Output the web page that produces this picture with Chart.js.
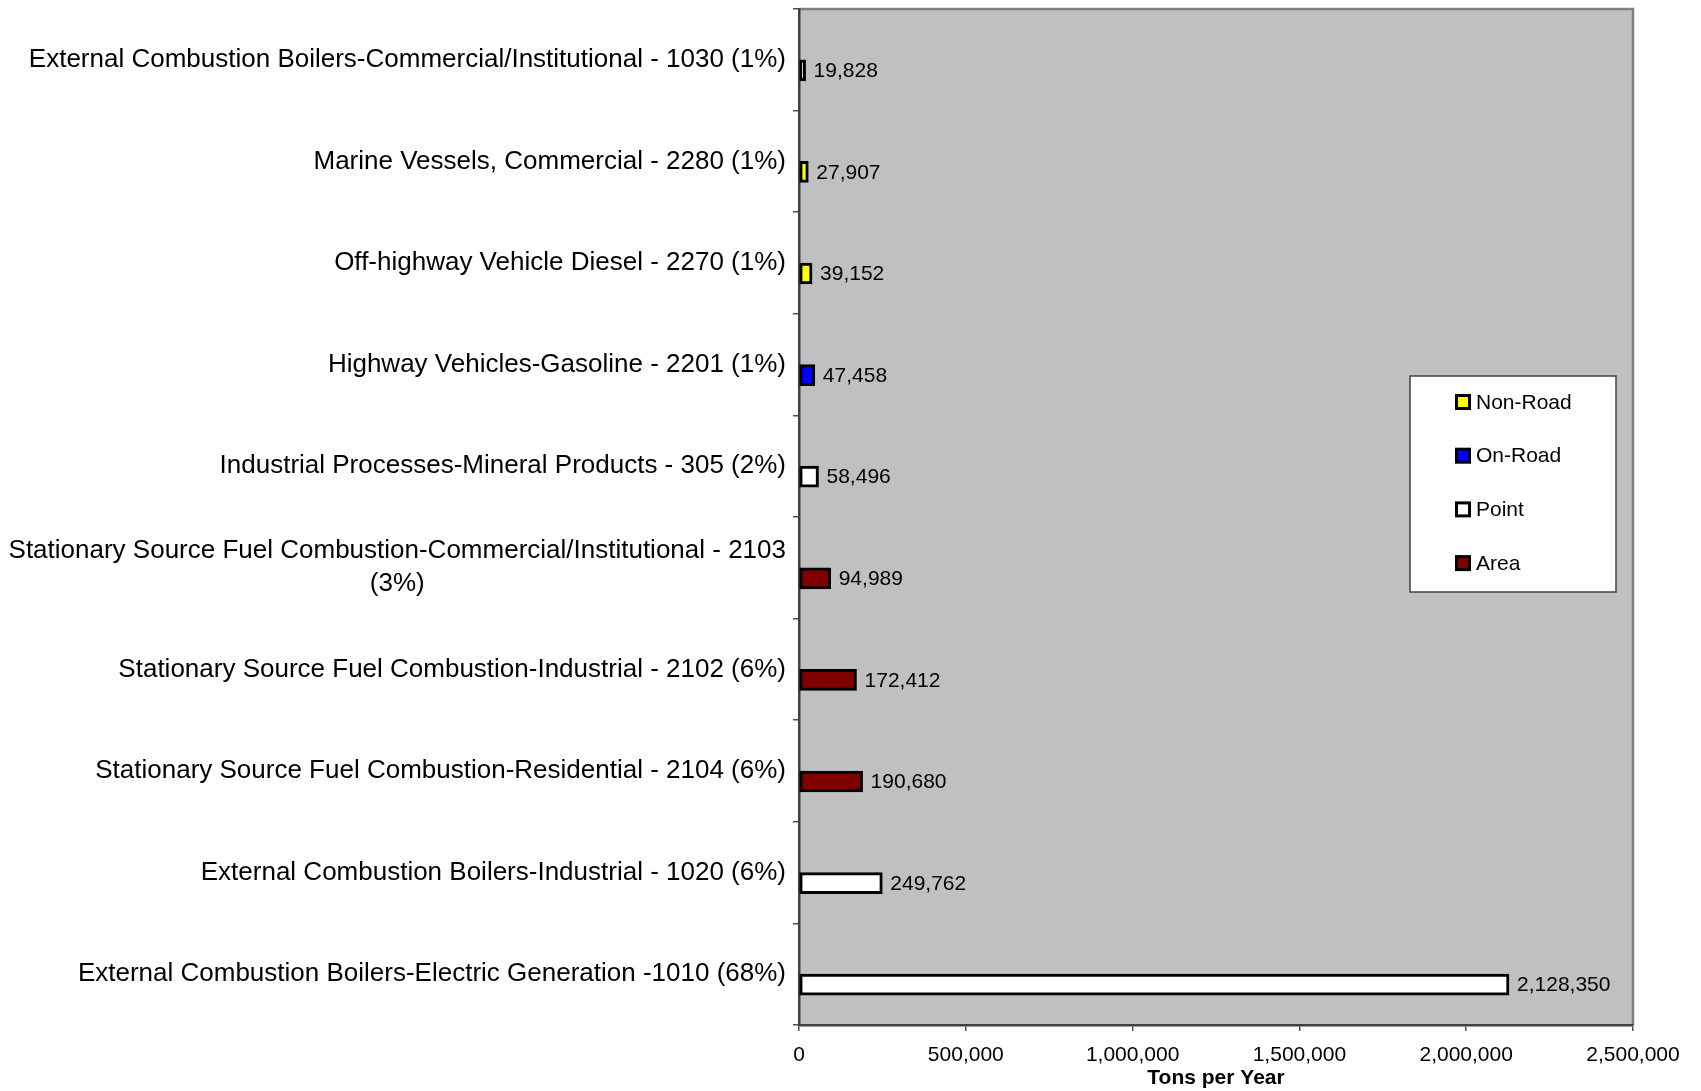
<!DOCTYPE html>
<html>
<head>
<meta charset="utf-8">
<script src="https://cdn.jsdelivr.net/npm/chart.js@4.4.1/dist/chart.umd.min.js"></script>
<style>
  html, body { margin: 0; padding: 0; background: #ffffff; }
  #wrap { width: 1701px; height: 1091px; }
</style>
</head>
<body>
<div id="wrap"><canvas id="c" width="1701" height="1091"></canvas></div>
<script>
const categories = [
  'External Combustion Boilers-Commercial/Institutional - 1030 (1%)',
  'Marine Vessels, Commercial - 2280 (1%)',
  'Off-highway Vehicle Diesel - 2270 (1%)',
  'Highway Vehicles-Gasoline - 2201 (1%)',
  'Industrial Processes-Mineral Products - 305 (2%)',
  ['Stationary Source Fuel Combustion-Commercial/Institutional - 2103', '(3%)'],
  'Stationary Source Fuel Combustion-Industrial - 2102 (6%)',
  'Stationary Source Fuel Combustion-Residential - 2104 (6%)',
  'External Combustion Boilers-Industrial - 1020 (6%)',
  'External Combustion Boilers-Electric Generation -1010 (68%)'
];
const values = [19828, 27907, 39152, 47458, 58496, 94989, 172412, 190680, 249762, 2128350];
const sourceTypes = ['Point', 'Non-Road', 'Non-Road', 'On-Road', 'Point', 'Area', 'Area', 'Area', 'Point', 'Point'];
const seriesNames = ['Non-Road', 'On-Road', 'Point', 'Area'];
const seriesColors = ['#FFFF00', '#0000FF', '#FFFFFF', '#800000'];
const xTicks = [0, 500000, 1000000, 1500000, 2000000, 2500000];
const xTitle = 'Tons per Year';

const FONT = "'Liberation Sans', Arial, sans-serif";
const fmt = v => Number(v).toLocaleString('en-US');

const datasets = [{
  label: '_spacer', data: categories.map(() => null), stack: 'spacer',
  backgroundColor: 'rgba(0,0,0,0)', borderWidth: 0
}].concat(seriesNames.map((name, k) => ({
  label: name,
  data: values.map((v, i) => sourceTypes[i] === name ? v : null),
  backgroundColor: seriesColors[k],
  borderColor: '#000000',
  borderWidth: 3,
  borderSkipped: false,
  stack: 'main'
})));

const bgPlugin = {
  id: 'plotBg',
  beforeDraw(chart) {
    const { ctx, chartArea: a } = chart;
    ctx.save();
    ctx.fillStyle = '#C0C0C0';
    ctx.fillRect(a.left, a.top, a.right - a.left, a.bottom - a.top);
    ctx.strokeStyle = '#808080';
    ctx.lineWidth = 2.5;
    ctx.beginPath();
    ctx.moveTo(a.left, a.top);
    ctx.lineTo(a.right, a.top);
    ctx.lineTo(a.right, a.bottom);
    ctx.stroke();
    ctx.restore();
  }
};

const yLabelPlugin = {
  id: 'yLabels',
  afterDraw(chart) {
    const { ctx } = chart;
    const ys = chart.scales.y;
    const rightX = ys.right - 13;
    ctx.save();
    ctx.font = '26px ' + FONT;
    ctx.fillStyle = '#000000';
    ctx.textBaseline = 'middle';
    ctx.textAlign = 'center';
    const lh = 33;
    chart.data.labels.forEach((lab, i) => {
      const lines = Array.isArray(lab) ? lab : [lab];
      const w = Math.max(...lines.map(l => ctx.measureText(l).width));
      const cx = rightX - w / 2;
      const cy = ys.getPixelForValue(i);
      const y0 = cy - (lines.length - 1) * lh / 2;
      lines.forEach((l, j) => ctx.fillText(l, cx, y0 + j * lh));
    });
    ctx.restore();
  }
};

const valueLabelPlugin = {
  id: 'valueLabels',
  afterDatasetsDraw(chart) {
    const { ctx } = chart;
    ctx.save();
    ctx.font = '21px ' + FONT;
    ctx.fillStyle = '#000000';
    ctx.textBaseline = 'middle';
    ctx.textAlign = 'left';
    chart.data.datasets.forEach((ds, di) => {
      if (ds.label === '_spacer') return;
      const meta = chart.getDatasetMeta(di);
      meta.data.forEach((bar, i) => {
        const v = ds.data[i];
        if (v === null || v === undefined) return;
        ctx.fillText(fmt(v), bar.x + 8, bar.y + 1);
      });
    });
    ctx.restore();
  }
};

const legendPlugin = {
  id: 'boxLegend',
  afterDraw(chart) {
    const { ctx } = chart;
    const bx = 1410, by = 376, bw = 206, bh = 216;
    ctx.save();
    ctx.fillStyle = '#FFFFFF';
    ctx.fillRect(bx, by, bw, bh);
    ctx.strokeStyle = '#404040';
    ctx.lineWidth = 1.5;
    ctx.strokeRect(bx, by, bw, bh);
    ctx.font = '21px ' + FONT;
    ctx.textBaseline = 'middle';
    ctx.textAlign = 'left';
    const items = chart.data.datasets.filter(d => d.label !== '_spacer');
    items.forEach((d, k) => {
      const cy = by + 26 + k * 53.7;
      ctx.fillStyle = '#000000';
      ctx.fillRect(bx + 45, cy - 8, 16, 16);
      ctx.fillStyle = d.backgroundColor;
      ctx.fillRect(bx + 48, cy - 5, 10, 10);
      ctx.fillStyle = '#000000';
      ctx.fillText(d.label, bx + 66, cy + 1);
    });
    ctx.restore();
  }
};

new Chart(document.getElementById('c'), {
  type: 'bar',
  data: { labels: categories, datasets },
  plugins: [bgPlugin, valueLabelPlugin, yLabelPlugin, legendPlugin],
  options: {
    indexAxis: 'y',
    responsive: false,
    animation: false,
    devicePixelRatio: 1,
    barThickness: 21,
    layout: { padding: { top: 9, right: 68, left: 0, bottom: 0 } },
    plugins: { legend: { display: false }, tooltip: { enabled: false } },
    scales: {
      y: {
        type: 'category',
        ticks: { display: false },
        grid: { offset: true, drawOnChartArea: false, drawTicks: true, tickLength: 6, color: '#505050', lineWidth: 1.5 },
        border: { display: true, color: '#404040', width: 2.5 },
        afterFit(s) { s.width = 799; }
      },
      x: {
        type: 'linear',
        min: xTicks[0],
        max: xTicks[xTicks.length - 1],
        afterBuildTicks(s) { s.ticks = xTicks.map(v => ({ value: v })); },
        ticks: {
          color: '#000000',
          font: { family: FONT, size: 21 },
          padding: 12,
          maxRotation: 0,
          callback: v => fmt(v)
        },
        grid: { drawOnChartArea: false, drawTicks: true, tickLength: 6, color: '#505050', lineWidth: 1.5 },
        border: { display: true, color: '#404040', width: 2.5 },
        title: {
          display: true, text: xTitle, color: '#000000',
          font: { family: FONT, size: 21, weight: 'bold' },
          padding: { top: 0, bottom: 0 }
        },
        afterFit(s) { s.height = 66; }
      }
    }
  }
});
</script>
</body>
</html>
